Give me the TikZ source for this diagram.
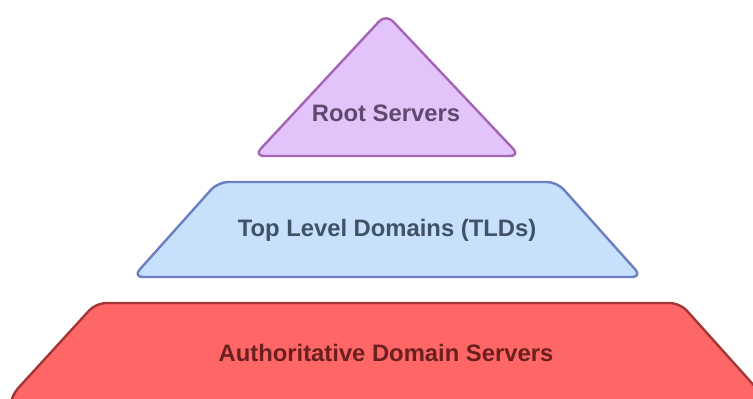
\documentclass[tikz,border=0pt]{standalone}
\usepackage{fontspec}
\setmainfont{Liberation Sans}
\usepackage{tikz}
\usepackage{xcolor}

\definecolor{rootfill}{HTML}{E2C3FA}
\definecolor{rootline}{HTML}{A564B8}
\definecolor{roottext}{HTML}{5E4A6E}
\definecolor{tldfill}{HTML}{C7E0FB}
\definecolor{tldline}{HTML}{6E7EC2}
\definecolor{tldtext}{HTML}{3F5266}
\definecolor{authfill}{HTML}{FF6666}
\definecolor{authline}{HTML}{A33636}
\definecolor{authtext}{HTML}{6B1F1F}

\begin{document}
\begin{tikzpicture}[x=0.5pt, y=-0.5pt]

\tikzstyle{layer} = [line width=1.2pt, rounded corners=5pt, line join=round]
\tikzstyle{every node} = [font=\fontsize{11.9}{14}\selectfont\bfseries]

\useasboundingbox (0,0) rectangle (753,398);
\clip (0,0) rectangle (753,398);

\draw[layer, fill=rootfill, draw=rootline] (386,14) -- (520,156) -- (254,156) -- cycle;
\draw[layer, fill=tldfill, draw=tldline] (218,182) -- (557,182) -- (642,277) -- (133,277) -- cycle;
\draw[layer, fill=authfill, draw=authline] (96,303) -- (680,303) -- (776,410) -- (10,410) -- (11,396) -- cycle;

\node[text=roottext] (r) at (386,113) {Root Servers};
\node[text=tldtext] (t) at (387,230) {Top Level Domains (TLDs)};
\node[text=authtext] (a) at (386,353) {Authoritative Domain Servers};

\end{tikzpicture}
\end{document}
